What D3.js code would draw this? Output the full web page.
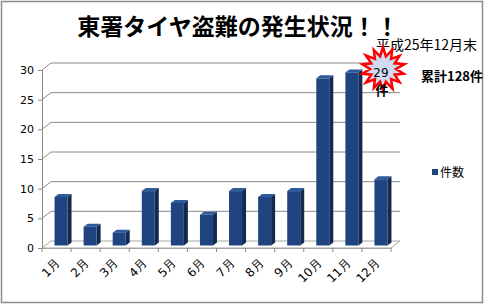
<!DOCTYPE html>
<html><head><meta charset="utf-8">
<script src="https://cdn.jsdelivr.net/npm/d3@7"></script>
<style>body{margin:0;background:#fff}svg{display:block}</style>
</head><body>
<script>
const categories = ["1月","2月","3月","4月","5月","6月","7月","8月","9月","10月","11月","12月"];
const values = [8,3,2,9,7,5,9,8,9,28,29,11];
const yTicks = [0,5,10,15,20,25,30];
const seriesName = "件数";
const title = "東署タイヤ盗難の発生状況！！";
const subtitle = "平成25年12月末";
const totalLabel = "累計128件";
const burstLabel = ["29","件"];

const W=501,H=304;
const svg=d3.select("body").append("svg").attr("width",W).attr("height",H);
svg.append("rect").attr("x",1.5).attr("y",1.5).attr("width",481).attr("height",301)
  .attr("fill","#fff").attr("stroke","#8c8c8c").attr("stroke-width",1.5);

const x0=42,x1=391,yb=248,yt=70,DX=9,DY=-7;
const x=d3.scaleBand().domain(categories).range([x0,x1]).paddingInner(0).paddingOuter(0);
const y=d3.scaleLinear().domain([0,30]).range([yb,yt]);
const grid="#8a8a8a";

const g=svg.append("g");
yTicks.forEach(t=>{
  const yy=y(t);
  if(t>0){
    g.append("path").attr("d",`M${x0},${yy}L${x0+DX},${yy+DY}L${x1+DX},${yy+DY}`)
     .attr("fill","none").attr("stroke",grid).attr("stroke-width",1);
  }
});
g.append("path").attr("d",`M${x0},${yb}L${x0+DX},${yb+DY}L${x1+DX},${yb+DY}L${x1},${yb}Z`)
 .attr("fill","none").attr("stroke","#a6a6a6").attr("stroke-width",1);
const yAxis=d3.axisLeft(y).tickValues(yTicks).tickSize(4).tickPadding(4);
const ya=svg.append("g").attr("transform",`translate(${x0},0)`).call(yAxis);
ya.select(".domain").attr("stroke",grid);
ya.selectAll(".tick line").attr("stroke",grid);
ya.selectAll("text").attr("font-family","DejaVu Sans, Verdana, sans-serif").attr("font-size",11).attr("fill","#000");

const xAxis=d3.axisBottom(x).tickSize(0).tickFormat(()=>"");
const xa=svg.append("g").attr("transform",`translate(0,${yb})`).call(xAxis);
xa.select(".domain").attr("stroke","#a6a6a6");
const bounds=categories.map(c=>x(c)).concat([x1]);
svg.append("g").selectAll("line").data(bounds).join("line")
  .attr("x1",d=>d).attr("x2",d=>d).attr("y1",yb).attr("y2",yb+4).attr("stroke",grid);
svg.append("g").selectAll("text").data(categories).join("text")
  .attr("transform",d=>`translate(${x(d)+x.bandwidth()/2+4},${yb+16}) rotate(-45)`)
  .attr("text-anchor","end").attr("font-family","DejaVu Sans, Verdana, sans-serif")
  .attr("font-size",12).attr("fill","#000").text(d=>d);

const bw=13, bd=4, bdy=-3;
const bars=svg.append("g").selectAll("g").data(categories).join("g");
bars.each(function(c,i){
  const gg=d3.select(this);
  const cx=x(c)+x.bandwidth()/2+DX/2;
  const top=y(values[i])+DY/2, bot=yb+DY/2+1;
  const l=cx-bw/2, r=cx+bw/2;
  gg.append("path").attr("d",`M${r},${top}L${r+bd},${top+bdy}L${r+bd},${bot+bdy}L${r},${bot}Z`).attr("fill","#13294f");
  gg.append("path").attr("d",`M${l},${top}L${l+bd},${top+bdy}L${r+bd},${top+bdy}L${r},${top}Z`).attr("fill","#2d5a9a");
  gg.append("rect").attr("x",l).attr("y",top).attr("width",bw).attr("height",bot-top).attr("fill","#1f447f");
});

svg.append("rect").attr("x",432).attr("y",169).attr("width",6).attr("height",6).attr("fill","#1f447f");
svg.append("text").attr("x",440).attr("y",177).attr("font-family","Noto Sans CJK JP, sans-serif")
  .attr("font-size",12).attr("fill","#000").text(seriesName);

svg.append("text").attr("x",238).attr("y",35).attr("text-anchor","middle")
  .attr("font-family","Noto Sans CJK JP, sans-serif").attr("font-weight","bold").attr("font-size",23)
  .attr("fill","#000").text(title);
svg.append("text").attr("x",376).attr("y",50)
  .attr("font-family","Noto Sans CJK JP, sans-serif").attr("font-size",14).attr("fill","#000").text(subtitle);

const cxs=383, cys=69, ro=22, ri=13, np=14;
const pts=d3.range(np*2).map(k=>{const a=Math.PI*k/np - Math.PI/2;const r=k%2?ri:ro*(0.9+0.1*((k/2)%3===0?1:0.6));return [cxs+r*Math.cos(a),cys+r*Math.sin(a)];});
svg.append("path").attr("d","M"+pts.map(p=>p.join(",")).join("L")+"Z")
  .attr("fill","#cfdcf2").attr("stroke","#ff0000").attr("stroke-width",2.5).attr("stroke-linejoin","miter");
svg.append("text").attr("x",381).attr("y",77).attr("text-anchor","middle")
  .attr("font-family","DejaVu Sans, sans-serif").attr("font-size",12).attr("fill","#000").text(burstLabel[0]);
svg.append("text").attr("x",382).attr("y",95).attr("text-anchor","middle")
  .attr("font-family","Noto Sans CJK JP, sans-serif").attr("font-weight","bold").attr("font-size",13).attr("fill","#000").text(burstLabel[1]);

svg.append("text").attr("x",421).attr("y",81)
  .attr("font-family","Noto Sans CJK JP, sans-serif").attr("font-weight","bold").attr("font-size",13).attr("fill","#000").text(totalLabel);
</script>
</body></html>
